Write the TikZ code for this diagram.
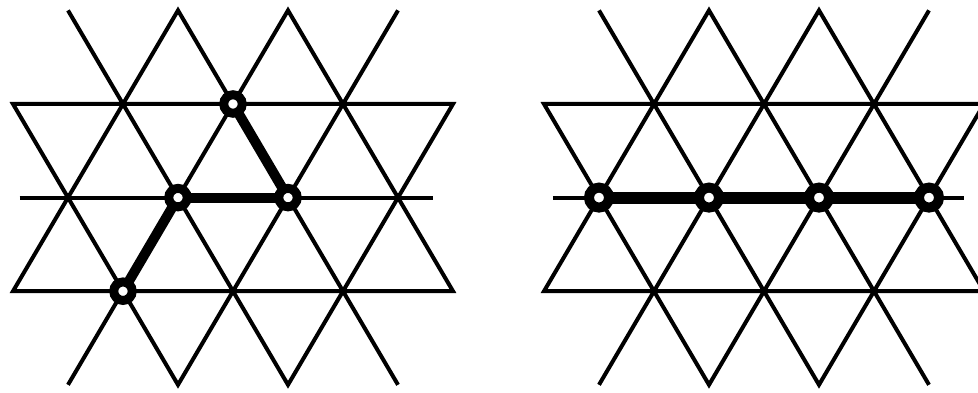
\documentclass[tikz,border=0pt]{standalone}
\usepackage{tikz}
\usetikzlibrary{positioning}

\begin{document}
\begin{tikzpicture}[x=55pt, y=93.6pt, line join=miter,
    lattice/.style={draw=black, line width=4pt},
    bond/.style={draw=black, line width=10pt, shorten <=-3pt, shorten >=-3pt},
    site/.style={circle, draw=black, fill=white, line width=9pt, minimum size=18.5pt, inner sep=0pt}]
    % Picture frame (right lattice is cut at the edge)
    \clip (-68pt,-195.4pt) rectangle (910pt,197.6pt);

    % Left lattice: bent chain of four sites
    \begin{scope}
        \draw [lattice] (0,-2) -- (4,2) -- (7,-1) -- (-1,-1) -- (2,2) -- (6,-2);
        \draw [lattice] (0,2) -- (4,-2) -- (7,1) -- (-1,1) -- (2,-2) -- (6,2);
        \draw [lattice] (-0.88,0) -- (6.63,0);

        \node [site] (a1) at (1,-1) {};
        \node [site] (a2) at (2,0) {};
        \node [site] (a3) at (4,0) {};
        \node [site] (a4) at (3,1) {};

        \draw [bond] (a1) -- (a2);
        \draw [bond] (a2) -- (a3);
        \draw [bond] (a3) -- (a4);
    \end{scope}

    % Right lattice: straight chain of four sites
    \begin{scope}[xshift=531pt, site/.append style={line width=10pt, minimum size=20pt}]
        \draw [lattice] (0,-2) -- (4,2) -- (7,-1) -- (-1,-1) -- (2,2) -- (6,-2);
        \draw [lattice] (0,2) -- (4,-2) -- (7,1) -- (-1,1) -- (2,-2) -- (6,2);
        \draw [lattice] (-0.84,0) -- (6.64,0);

        \node [site] (b1) at (0,0) {};
        \node [site] (b2) at (2,0) {};
        \node [site] (b3) at (4,0) {};
        \node [site] (b4) at (6,0) {};

        \draw [bond, line width=12pt] (b1) -- (b2);
        \draw [bond, line width=12pt] (b2) -- (b3);
        \draw [bond, line width=12pt] (b3) -- (b4);
    \end{scope}
\end{tikzpicture}
\end{document}
